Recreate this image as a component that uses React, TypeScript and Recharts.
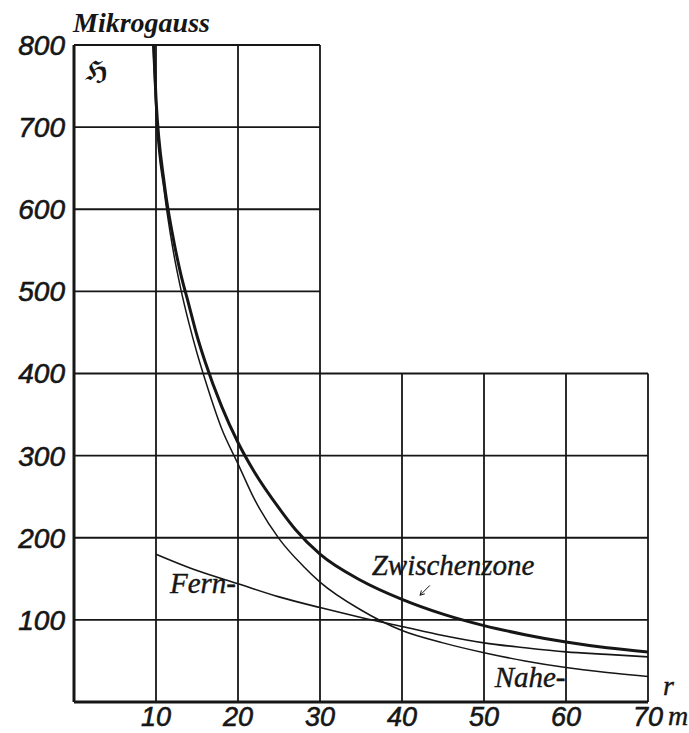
import { LineChart, Line, XAxis, YAxis, ReferenceLine, ReferenceDot, Label } from 'recharts';

// r in m, field strength in Mikrogauss
const xTicks = [10, 20, 30, 40, 50, 60, 70];
const yTicks = [100, 200, 300, 400, 500, 600, 700, 800];

const zwischenR = [9.7, 10, 11, 12, 13, 14, 15, 16, 18, 20, 22, 25, 27, 30, 35, 40, 45, 50, 55, 60, 65, 70];
const zwischenH = [800, 735, 632, 570, 522, 484, 446, 414, 360, 316, 280, 236, 210, 180, 148, 125, 107, 93, 82, 73, 66, 61];

const naheR = [9.65, 10, 11, 12, 13, 14, 15, 16, 18, 20, 22, 25, 28, 30, 35, 40, 45, 50, 55, 60, 65, 70];
const naheH = [800, 716, 622, 555, 504, 462, 425, 392, 333, 290, 247, 199, 165, 146, 112, 87, 72, 60, 50, 42, 36, 31];

const fernR = [10, 15, 20, 25, 30, 35, 40, 45, 50, 55, 60, 65, 70];
const fernH = [180, 160, 144, 128, 115, 103, 92, 81, 72, 66, 61, 58, 55];

// the grid is L-shaped: upper rows only reach r = 30, right columns only reach 400
const lowerRows = [100, 200, 300, 400];
const upperRows = [500, 600, 700, 800];
const fullCols = [10, 20, 30];
const shortCols = [40, 50, 60, 70];

const notes = [
  { text: 'Fern-', r: 11.7, h: 133 },
  { text: 'Zwischenzone', r: 36.3, h: 155 },
  { text: 'Nahe-', r: 51.3, h: 18 },
];
const arrow = { r1: 43.4, h1: 142, r2: 42.2, h2: 130 };

const toPoints = (rs: number[], hs: number[]) => rs.map((r, i) => ({ r, h: hs[i] }));

const zwischen = toPoints(zwischenR, zwischenH);
const nahe = toPoints(naheR, naheH);
const fern = toPoints(fernR, fernH);

const INK = '#161616';
const NUM_FONT = '"Liberation Sans", Arial, sans-serif';
const TEXT_FONT = '"Liberation Serif", "Times New Roman", serif';

const textAt = (text: string, opts: any = {}) => (props: any) => {
  const vb = props.viewBox || {};
  return (
    <text
      x={vb.x + (opts.dx || 0)}
      y={vb.y + (opts.dy || 0)}
      fill={INK}
      stroke={opts.stroke ?? INK}
      strokeWidth={opts.strokeWidth ?? 0.4}
      fontFamily={opts.family || TEXT_FONT}
      fontSize={opts.size || 29}
      fontStyle={opts.style || 'italic'}
      fontWeight={opts.weight || 'normal'}
      textAnchor={opts.anchor || 'start'}
    >
      {text}
    </text>
  );
};

const ArrowShape = (p: any) => {
  const { x1, y1, x2, y2 } = p;
  const a = Math.atan2(y2 - y1, x2 - x1);
  const L = 5;
  const w = 0.5;
  const h1x = x2 - L * Math.cos(a - w);
  const h1y = y2 - L * Math.sin(a - w);
  const h2x = x2 - L * Math.cos(a + w);
  const h2y = y2 - L * Math.sin(a + w);
  return (
    <g>
      <line x1={x1} y1={y1} x2={x2} y2={y2} stroke={INK} strokeWidth={1} />
      <path d={`M${h1x},${h1y}L${x2},${y2}L${h2x},${h2y}`} fill="none" stroke={INK} strokeWidth={1} />
    </g>
  );
};

const tickStyle = {
  fill: INK,
  stroke: INK,
  strokeWidth: 0.6,
  fontSize: 27,
  fontStyle: 'italic',
  fontFamily: NUM_FONT,
};

export default function App() {
  const gridStroke = { stroke: INK, strokeWidth: 1.8 };
  return (
    <div style={{ position: 'absolute', left: 0, top: 0 }}>
      <LineChart width={689} height={733} margin={{ top: 45, right: 41, left: 0, bottom: 0 }}>
        <XAxis
          type="number"
          dataKey="r"
          domain={[0, 70]}
          ticks={xTicks}
          allowDataOverflow
          height={31}
          tickSize={0}
          tickMargin={5}
          axisLine={{ stroke: INK, strokeWidth: 3 }}
          tick={tickStyle}
        >
          <Label
            content={(props: any) => {
              const vb = props.viewBox;
              const right = vb.x + vb.width;
              return (
                <g fill={INK} stroke={INK} strokeWidth={0.4} fontFamily={TEXT_FONT} fontStyle="italic" fontSize={28}>
                  <text x={right + 15} y={vb.y - 7}>r</text>
                  <text x={right + 20} y={vb.y + 23}>m</text>
                </g>
              );
            }}
          />
        </XAxis>
        <YAxis
          type="number"
          domain={[0, 800]}
          ticks={yTicks}
          allowDataOverflow
          width={74}
          tickSize={0}
          tickMargin={9}
          axisLine={{ stroke: INK, strokeWidth: 3 }}
          tick={{ ...tickStyle, fontSize: 28 }}
        >
          <Label
            content={(props: any) => {
              const vb = props.viewBox;
              return (
                <text
                  x={vb.x + vb.width - 1}
                  y={vb.y - 13}
                  fill={INK}
                  fontFamily={TEXT_FONT}
                  fontStyle="italic"
                  fontWeight="bold"
                  fontSize={28}
                >
                  Mikrogauss
                </text>
              );
            }}
          />
        </YAxis>

        {lowerRows.map((v) => (
          <ReferenceLine key={`lr${v}`} segment={[{ x: 0, y: v }, { x: 70, y: v }]} {...gridStroke} />
        ))}
        {upperRows.map((v) => (
          <ReferenceLine key={`ur${v}`} segment={[{ x: 0, y: v }, { x: 30, y: v }]} {...gridStroke} />
        ))}
        {fullCols.map((v) => (
          <ReferenceLine key={`fc${v}`} segment={[{ x: v, y: 0 }, { x: v, y: 800 }]} {...gridStroke} />
        ))}
        {shortCols.map((v) => (
          <ReferenceLine key={`sc${v}`} segment={[{ x: v, y: 0 }, { x: v, y: 400 }]} {...gridStroke} />
        ))}

        <Line data={fern} dataKey="h" type="monotone" stroke={INK} strokeWidth={1.6} dot={false} isAnimationActive={false} />
        <Line data={nahe} dataKey="h" type="monotone" stroke={INK} strokeWidth={1.5} dot={false} isAnimationActive={false} />
        <Line data={zwischen} dataKey="h" type="monotone" stroke={INK} strokeWidth={3} dot={false} isAnimationActive={false} />

        <ReferenceLine
          segment={[{ x: arrow.r1, y: arrow.h1 }, { x: arrow.r2, y: arrow.h2 }]}
          shape={ArrowShape}
        />

        {notes.map((n) => (
          <ReferenceDot key={n.text} x={n.r} y={n.h} r={0} stroke="none" fill="none">
            <Label content={textAt(n.text)} />
          </ReferenceDot>
        ))}
        <ReferenceDot x={1.34} y={757} r={0} stroke="none" fill="none">
          <Label
            content={textAt('\u210C', {
              family: '"DejaVu Serif", "DejaVu Sans", serif',
              size: 26,
              style: 'normal',
              weight: 'bold',
              strokeWidth: 0,
            })}
          />
        </ReferenceDot>
      </LineChart>
    </div>
  );
}
